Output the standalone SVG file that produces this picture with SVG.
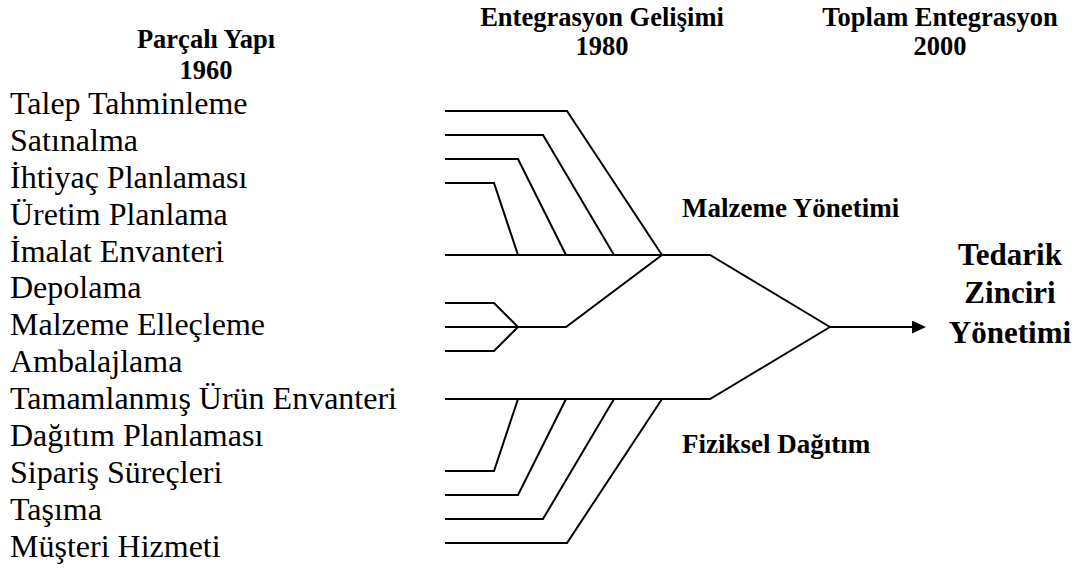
<svg xmlns="http://www.w3.org/2000/svg" width="1090" height="572" viewBox="0 0 1090 572">
<style>
.lbl{font-family:"Liberation Serif","Times New Roman",serif;font-size:32px;fill:#000}
.hdr{font-family:"Liberation Serif","Times New Roman",serif;font-size:26.5px;font-weight:bold;fill:#000;text-anchor:middle}
.sub{font-family:"Liberation Serif","Times New Roman",serif;font-size:27px;font-weight:bold;fill:#000}
.big{font-family:"Liberation Serif","Times New Roman",serif;font-size:31px;font-weight:bold;fill:#000;text-anchor:middle}
.ln{fill:none;stroke:#000;stroke-width:2;stroke-linejoin:miter}
</style>
<defs>
<marker id="arr" markerWidth="14" markerHeight="14" refX="0" refY="6.5" orient="auto" markerUnits="userSpaceOnUse">
<polygon points="0,0 14,6.5 0,13" fill="#000"/>
</marker>
</defs>
<rect width="1090" height="572" fill="#fff"/>
<g id="headers">
<text class="hdr" x="206" y="48">Parçalı Yapı</text>
<text class="hdr" x="206" y="79">1960</text>
<text class="hdr" x="602" y="26">Entegrasyon Gelişimi</text>
<text class="hdr" x="602" y="55">1980</text>
<text class="hdr" x="940" y="26">Toplam Entegrasyon</text>
<text class="hdr" x="940" y="55">2000</text>
</g>
<g id="activities">
<text class="lbl" x="10" y="114">Talep Tahminleme</text>
<text class="lbl" x="10" y="151">Satınalma</text>
<text class="lbl" x="10" y="188">İhtiyaç Planlaması</text>
<text class="lbl" x="10" y="225">Üretim Planlama</text>
<text class="lbl" x="10" y="262">İmalat Envanteri</text>
<text class="lbl" x="10" y="298">Depolama</text>
<text class="lbl" x="10" y="335">Malzeme Elleçleme</text>
<text class="lbl" x="10" y="372">Ambalajlama</text>
<text class="lbl" x="10" y="409">Tamamlanmış Ürün Envanteri</text>
<text class="lbl" x="10" y="446">Dağıtım Planlaması</text>
<text class="lbl" x="10" y="483">Sipariş Süreçleri</text>
<text class="lbl" x="10" y="520">Taşıma</text>
<text class="lbl" x="10" y="557">Müşteri Hizmeti</text>
</g>
<g id="malzeme">
<text class="sub" x="682" y="217">Malzeme Yönetimi</text>
</g>
<g id="fiziksel">
<text class="sub" x="682" y="453">Fiziksel Dağıtım</text>
</g>
<g id="tzy">
<text class="big" x="1010" y="265">Tedarik</text>
<text class="big" x="1010" y="303">Zinciri</text>
<text class="big" x="1010" y="343">Yönetimi</text>
</g>
<g id="connectors">
<path class="ln" d="M445,111 H567 L662,255"/>
<path class="ln" d="M445,135 H543 L614,255"/>
<path class="ln" d="M445,159 H518 L566,255"/>
<path class="ln" d="M445,183 H494 L518,255"/>
<path class="ln" d="M445,255 H710 L830,327"/>
<path class="ln" d="M445,303 H494 L518,327"/>
<path class="ln" d="M445,327 H566 L662,255"/>
<path class="ln" d="M445,351 H494 L518,327"/>
<path class="ln" d="M445,399 H710 L830,327"/>
<path class="ln" d="M445,471 H494 L518,399"/>
<path class="ln" d="M445,495 H518 L566,399"/>
<path class="ln" d="M445,519 H543 L614,399"/>
<path class="ln" d="M445,543 H567 L662,399"/>
<path class="ln" d="M830,327 H912" marker-end="url(#arr)"/>
</g>
</svg>
